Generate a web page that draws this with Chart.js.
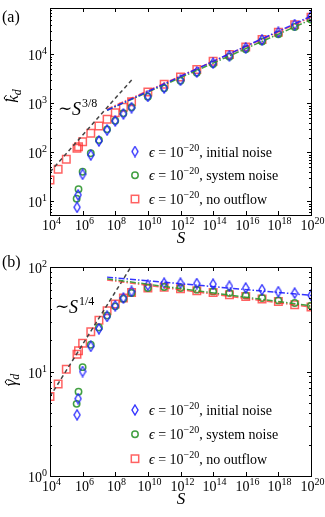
<!DOCTYPE html>
<html>
<head>
<meta charset="utf-8">
<script src="https://cdn.jsdelivr.net/npm/chart.js@4.4.1/dist/chart.umd.min.js"></script>
<style>
  body { margin: 0; background: #fff; }
  canvas { position: absolute; left: 0; }
</style>
</head>
<body>
<canvas id="panelA" width="325" height="250" style="top:0"></canvas>
<canvas id="panelB" width="325" height="267" style="top:250px"></canvas>
<script>
// abscissas (S) for each series
const sBlue = [4.6e5, 5.3e5, 1e6, 3.16e6, 1e7, 3.16e7, 1e8, 3.16e8, 1e9,
  1e10, 1e11, 1e12, 1e13, 1e14, 1e15, 1e16, 1e17, 1e18, 1e19, 1e20];
const sGreen = [4.3e5, 5.6e5, 1e6, 3.16e6, 1e7, 3.16e7, 1e8, 3.16e8, 1e9,
  1e10, 1e11, 1e12, 1e13, 1e14, 1e15, 1e16, 1e17, 1e18, 1e19, 1e20];
const sRed = [1e4, 3.16e4, 1e5, 4.5e5, 5.6e5, 1e6, 3.16e6, 1e7, 3.16e7, 1e8, 3.16e8, 1e9,
  1e10, 1e11, 1e12, 1e13, 1e14, 1e15, 1e16, 1e17, 1e18, 1e19, 1e20];

// panel (a): k_d
const kBlue = [7.55, 13.5, 35.6, 88, 170, 284, 435, 605, 813,
  1380, 2050, 2950, 4350, 6600, 9400, 13600, 19800, 28000, 40500, 60000];
const kGreen = [11.3, 17.6, 40, 95.5, 178, 294, 441, 625, 828,
  1365, 2020, 2880, 4210, 6300, 8900, 12700, 18300, 25500, 36000, 51000];
const kRed = [27.2, 45, 72, 121, 130, 164, 244, 344, 471, 643, 828, 1080,
  1700, 2440, 3440, 4870, 7200, 9900, 14000, 20000, 28000, 40000, 57000];

// panel (b): gamma_d
const gBlue = [3.85, 5.5, 10, 17.4, 25.6, 33.6, 42.6, 50.5, 58.4,
  67, 70, 70, 69.5, 68.5, 65.5, 63, 60.7, 58, 56.3, 53.5];
const gGreen = [4.9, 6.4, 11, 18, 26.4, 34.4, 42, 49.7, 56.4,
  63, 64.3, 63, 60.7, 58.4, 56.3, 53.5, 50.5, 47.9, 45.2, 42.6];
const gRed = [5.77, 7.6, 10.5, 14.6, 15.8, 18.6, 24, 31, 38.2, 44.3, 50.5, 57,
  63, 64, 62, 59.3, 57.1, 54.3, 52.3, 49.3, 46.8, 43.6, 41.4];

// fitted lines (dash-dot) and power-law guides (dashed)
const fitS = [3.16e7, 1e20];
const fitKBlue = [720, 60000], fitKGreen = [720, 51000], fitKRed = [760, 57000];
const fitGBlue = [80, 53.5], fitGGreen = [77, 42.6], fitGRed = [75, 41.4];
const guideSA = [1e4, 1.07e9], guideK = [39.8, 3060];
const guideSB = [1e4, 9.1e8], guideG = [5.75, 100];

const legendLabels = ['initial noise', 'system noise', 'no outflow'];
const xTickExps = [4, 6, 8, 10, 12, 14, 16, 18, 20];

const FONT = "'Liberation Serif', 'DejaVu Serif', serif";
const BLUE = 'rgba(30, 30, 255, 0.9)';
const GREEN = 'rgba(45, 150, 45, 0.9)';
const RED = 'rgba(255, 45, 45, 0.75)';

function makeDiamond(color) {
  const c = document.createElement('canvas');
  c.width = 8; c.height = 12;
  const g = c.getContext('2d');
  g.strokeStyle = color; g.lineWidth = 1.4;
  g.beginPath();
  g.moveTo(4, 1); g.lineTo(7, 6); g.lineTo(4, 11); g.lineTo(1, 6);
  g.closePath(); g.stroke();
  return c;
}
const diamond = makeDiamond(BLUE);

function pts(xs, ys) {
  return xs.map((x, i) => ({ x: x, y: ys[i] }));
}

function markerSet(xs, ys, color, style, r) {
  return {
    data: pts(xs, ys), showLine: false,
    pointStyle: style, pointRadius: r, pointHoverRadius: r,
    borderColor: color, backgroundColor: 'rgba(0,0,0,0)', pointBorderWidth: 1.5
  };
}
function lineSet(xs, ys, color, dash) {
  return {
    data: pts(xs, ys), showLine: true, pointRadius: 0,
    borderColor: color, borderWidth: 1.5, borderDash: dash
  };
}

function powLabel(ctx, x, y, exp, align) {
  ctx.font = '14px ' + FONT;
  const w1 = ctx.measureText('10').width;
  ctx.font = '10px ' + FONT;
  const w2 = ctx.measureText(exp).width;
  const x0 = align === 'right' ? x - w1 - w2 : x - (w1 + w2) / 2;
  ctx.textAlign = 'left';
  ctx.textBaseline = 'alphabetic';
  ctx.font = '14px ' + FONT;
  ctx.fillText('10', x0, y);
  ctx.font = '10px ' + FONT;
  ctx.fillText(exp, x0 + w1, y - 6);
}

// frame, ticks, labels, legend and annotations
const decor = {
  id: 'decor',
  afterDraw(chart, args, o) {
    const ctx = chart.ctx;
    const a = chart.chartArea;
    const xs = chart.scales.x, ys = chart.scales.y;
    ctx.save();
    ctx.fillStyle = '#000';
    ctx.strokeStyle = '#000';
    ctx.lineWidth = 1;
    ctx.strokeRect(a.left + 0.5, a.top + 0.5, a.right - a.left, a.bottom - a.top);

    // x ticks
    xTickExps.forEach(e => {
      const px = Math.round(xs.getPixelForValue(Math.pow(10, e))) + 0.5;
      ctx.beginPath();
      ctx.moveTo(px, a.bottom); ctx.lineTo(px, a.bottom - 4);
      ctx.moveTo(px, a.top); ctx.lineTo(px, a.top + 4);
      ctx.stroke();
      powLabel(ctx, px + 1, a.bottom + 15, String(e), 'center');
    });

    // y ticks
    const lo = Math.floor(Math.log10(ys.min)), hi = Math.ceil(Math.log10(ys.max));
    for (let d = lo; d <= hi; d++) {
      for (let m = 1; m <= 9; m++) {
        const v = m * Math.pow(10, d);
        if (v < ys.min || v > ys.max) continue;
        const py = Math.round(ys.getPixelForValue(v)) + 0.5;
        const len = m === 1 ? 4 : 2;
        ctx.beginPath();
        ctx.moveTo(a.left, py); ctx.lineTo(a.left + len, py);
        ctx.moveTo(a.right, py); ctx.lineTo(a.right - len, py);
        ctx.stroke();
        if (m === 1) powLabel(ctx, a.left - 3, py + 5, String(d), 'right');
      }
    }

    // panel tag
    ctx.font = '16px ' + FONT;
    ctx.textAlign = 'left';
    ctx.fillText(o.tag, 2, o.tagY);

    // x title
    ctx.font = 'italic 17px ' + FONT;
    ctx.textAlign = 'center';
    ctx.fillText('S', 181, a.bottom + 28);

    // y title (rotated)
    ctx.save();
    ctx.translate(o.yTitleX, o.yTitleY);
    ctx.rotate(-Math.PI / 2);
    ctx.textAlign = 'left';
    ctx.font = 'italic 17px ' + FONT;
    const wm = ctx.measureText(o.yLetter).width;
    ctx.font = 'italic 12px ' + FONT;
    const ws = ctx.measureText('d').width;
    const x0 = -(wm + ws) / 2;
    ctx.font = 'italic 17px ' + FONT;
    ctx.fillText(o.yLetter, x0, 0);
    ctx.font = 'italic 12px ' + FONT;
    ctx.fillText('d', x0 + wm, 3);
    // hat
    const hx = x0 + wm / 2 + 1, hy = -o.hatH;
    ctx.lineWidth = 1;
    ctx.beginPath();
    ctx.moveTo(hx - 3, hy + 2.5); ctx.lineTo(hx, hy); ctx.lineTo(hx + 3, hy + 2.5);
    ctx.stroke();
    ctx.restore();

    // power-law annotation
    ctx.textAlign = 'left';
    ctx.font = '17px ' + FONT;
    ctx.fillText('\u223C', o.annX - 1, o.annY - 1);
    ctx.font = 'italic 18px ' + FONT;
    ctx.fillText('S', o.annX + 13, o.annY);
    const wS = ctx.measureText('S').width;
    ctx.font = '12px ' + FONT;
    ctx.fillText(o.annExp, o.annX + 14 + wS, o.annY - 8);

    // legend
    const colors = [BLUE, GREEN, RED];
    o.legendY.forEach((ly, i) => {
      const mx = 135;
      ctx.lineWidth = 1.5;
      ctx.strokeStyle = colors[i];
      if (i === 0) {
        ctx.drawImage(diamond, mx - 4, ly - 6);
      } else if (i === 1) {
        ctx.beginPath(); ctx.arc(mx, ly, 3.2, 0, Math.PI * 2); ctx.stroke();
      } else {
        ctx.strokeRect(mx - 3.7, ly - 3.7, 7.4, 7.4);
      }
      let tx = 149;
      const base = ly + 5;
      ctx.fillStyle = '#000';
      ctx.font = 'italic 14px ' + FONT;
      ctx.fillText('\u03F5', tx, base);
      tx += ctx.measureText('\u03F5').width;
      ctx.font = '14px ' + FONT;
      ctx.fillText(' = 10', tx, base);
      tx += ctx.measureText(' = 10').width;
      ctx.font = '10px ' + FONT;
      ctx.fillText('\u221220', tx, base - 6);
      tx += ctx.measureText('\u221220').width;
      ctx.font = '14px ' + FONT;
      ctx.fillText(', ' + legendLabels[i], tx, base);
    });
    ctx.restore();
  }
};

function makeChart(id, datasets, yMin, yMax, pad, deco) {
  return new Chart(document.getElementById(id), {
    type: 'scatter',
    data: { datasets: datasets },
    options: {
      responsive: false,
      animation: false,
      events: [],
      layout: { padding: pad },
      scales: {
        x: { type: 'logarithmic', min: 1e4, max: 1e20, display: false },
        y: { type: 'logarithmic', min: yMin, max: yMax, display: false }
      },
      plugins: { legend: { display: false }, tooltip: { enabled: false }, decor: deco }
    },
    plugins: [decor]
  });
}

const dashDot = [6, 2, 1.5, 2];
const dashed = [4, 3];

makeChart('panelA', [
  lineSet(fitS, fitKBlue, BLUE, dashDot),
  lineSet(fitS, fitKGreen, GREEN, dashDot),
  lineSet(fitS, fitKRed, RED, dashDot),
  lineSet(guideSA, guideK, '#444', dashed),
  markerSet(sBlue, kBlue, BLUE, diamond, 5),
  markerSet(sGreen, kGreen, GREEN, 'circle', 3.2),
  markerSet(sRed, kRed, RED, 'rect', 5.3)
], 5.25, 88000, { left: 50, right: 14, top: 8, bottom: 35 }, {
  tag: '(a)', tagY: 22, yLetter: 'k', yTitleX: 18, yTitleY: 96, hatH: 14,
  annX: 59, annY: 115, annExp: '3/8', legendY: [151.5, 175.3, 199]
});

makeChart('panelB', [
  lineSet(fitS, fitGBlue, BLUE, dashDot),
  lineSet(fitS, fitGGreen, GREEN, dashDot),
  lineSet(fitS, fitGRed, RED, dashDot),
  lineSet(guideSB, guideG, '#444', dashed),
  markerSet(sBlue, gBlue, BLUE, diamond, 5),
  markerSet(sGreen, gGreen, GREEN, 'circle', 3.2),
  markerSet(sRed, gRed, RED, 'rect', 5.3)
], 1, 100, { left: 50, right: 14, top: 17, bottom: 41 }, {
  tag: '(b)', tagY: 17, yLetter: '\u03B3', yTitleX: 16, yTitleY: 130, hatH: 11,
  annX: 56, annY: 63, annExp: '1/4', legendY: [160, 184.3, 208.7]
});
</script>
</body>
</html>
